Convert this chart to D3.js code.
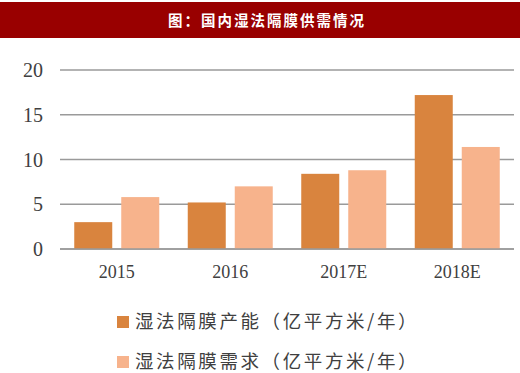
<!DOCTYPE html>
<html>
<head>
<meta charset="utf-8">
<script src="https://cdn.jsdelivr.net/npm/d3@7"></script>
<style>
  body { margin: 0; background: #fff; }
  .tick-label { font-family: "Liberation Serif", "DejaVu Serif", serif; fill: #404040; }
  .cjk { font-family: "Noto Sans CJK SC", sans-serif; }
</style>
</head>
<body>
<div id="chart"></div>
<script>
// Chart data
const years = ['2015', '2016', '2017E', '2018E'];
const capacity = [3.0, 5.2, 8.4, 17.2];
const demand = [5.8, 7.0, 8.8, 11.4];
const yTicks = [0, 5, 10, 15, 20];
const seriesNames = ['湿法隔膜产能（亿平方米/年）', '湿法隔膜需求（亿平方米/年）'];
const colors = ['#D9843E', '#F7B38C'];

const W = 520, H = 373;
const svg = d3.select('#chart').append('svg')
  .attr('width', W)
  .attr('height', H);

// Title bar
svg.append('rect')
  .attr('x', 0).attr('y', 2)
  .attr('width', W).attr('height', 36)
  .attr('fill', '#990000');
svg.append('text')
  .attr('class', 'cjk')
  .attr('x', 267).attr('y', 26)
  .attr('text-anchor', 'middle')
  .attr('fill', '#fff')
  .attr('font-size', 14.5)
  .attr('font-weight', 'bold')
  .attr('letter-spacing', 2)
  .text('图：国内湿法隔膜供需情况');

// Scales
const plotLeft = 60, plotRight = 514;
const x = d3.scaleBand().domain(years).range([plotLeft, plotRight]);
const y = d3.scaleLinear().domain([0, 20]).range([249, 70]);

// Grid lines
svg.append('g').selectAll('line')
  .data(yTicks)
  .enter().append('line')
  .attr('x1', plotLeft).attr('x2', plotRight)
  .attr('y1', (d) => y(d)).attr('y2', (d) => y(d))
  .attr('stroke', '#9a9a9a')
  .attr('stroke-width', 1.5);

// Y tick labels
svg.append('g').selectAll('text')
  .data(yTicks)
  .enter().append('text')
  .attr('class', 'tick-label')
  .attr('x', 43)
  .attr('y', (d) => y(d) + 7)
  .attr('text-anchor', 'end')
  .attr('font-size', 20)
  .text((d) => d);

// Bars
const barW = 38, gap = 9;
const offset = (x.bandwidth() - (2 * barW + gap)) / 2;
[capacity, demand].forEach(function (vals, i) {
  svg.append('g').selectAll('rect')
    .data(vals)
    .enter().append('rect')
    .attr('x', (d, j) => x(years[j]) + offset + i * (barW + gap))
    .attr('y', (d) => y(d))
    .attr('width', barW)
    .attr('height', (d) => y(0) - y(d))
    .attr('fill', colors[i]);
});

// Redraw baseline on top of bars
svg.append('line')
  .attr('x1', plotLeft).attr('x2', plotRight)
  .attr('y1', y(0)).attr('y2', y(0))
  .attr('stroke', '#9a9a9a')
  .attr('stroke-width', 1.5);

// X labels
svg.append('g').selectAll('text')
  .data(years)
  .enter().append('text')
  .attr('class', 'tick-label')
  .attr('x', (d) => x(d) + x.bandwidth() / 2)
  .attr('y', 278)
  .attr('text-anchor', 'middle')
  .attr('font-size', 18)
  .text((d) => d);

// Legend
const legend = svg.append('g').attr('transform', 'translate(117, 316)');
seriesNames.forEach(function (name, i) {
  legend.append('rect')
    .attr('x', 0).attr('y', i * 40)
    .attr('width', 12).attr('height', 12)
    .attr('fill', colors[i]);
  legend.append('text')
    .attr('class', 'cjk')
    .attr('x', 18).attr('y', i * 40 + 12)
    .attr('font-size', 18.5)
    .attr('letter-spacing', 2.6)
    .attr('fill', '#404040')
    .text(name);
});
</script>
</body>
</html>
